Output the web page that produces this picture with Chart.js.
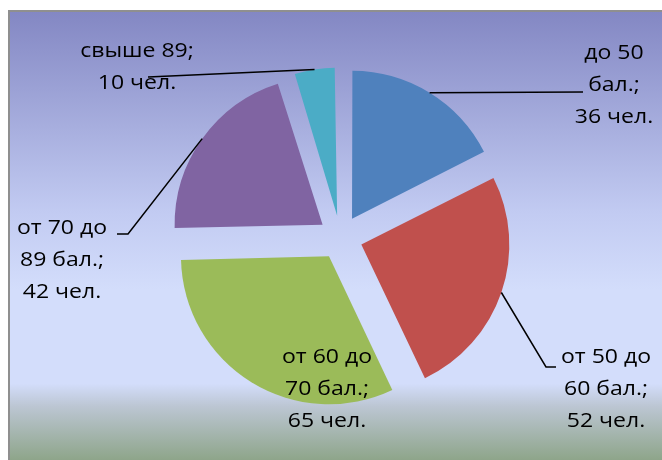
<!DOCTYPE html>
<html>
<head>
<meta charset="utf-8">
<script src="https://cdn.jsdelivr.net/npm/chart.js"></script>
<style>
  html, body { margin: 0; padding: 0; background: #fff; }
  #wrap { width: 662px; height: 460px; position: relative; }
</style>
</head>
<body>
<div id="wrap"><canvas id="pie"></canvas></div>
<script>
const categories = ["до 50 бал.", "от 50 до 60 бал.", "от 60 до 70 бал.", "от 70 до 89 бал.", "свыше 89"];
const counts = [36, 52, 65, 42, 10];
const unit = "чел.";
const sliceColors = ["#4f81bd", "#c0504d", "#9bbb59", "#8064a2", "#4bacc6"];

const R = 148;       // slice radius
const PULL = 22;     // explode distance
const LINE = 32;     // label line height
const STRETCH = 1.15;

// where each label goes: centre x, first baseline, wrap width, leader bends
const labelSpots = [
  {x: 614, y: 59, w: 105, lead: [[583, 92]]},
  {x: 606, y: 363, w: 105, lead: [[546, 367], [556, 367]]},
  {x: 327, y: 363, w: 105, lead: null},
  {x: 62, y: 234, w: 105, lead: [[128, 234], [117, 234]]},
  {x: 137, y: 57, w: 130, lead: [[148, 77]]},
];

function wrap(c, text, maxW) {
  const words = text.split(" ");
  const out = [];
  let cur = "";
  words.forEach(w => {
    const test = cur ? cur + " " + w : w;
    if (cur && c.measureText(test).width * STRETCH > maxW) {
      out.push(cur);
      cur = w;
    } else {
      cur = test;
    }
  });
  if (cur) out.push(cur);
  return out;
}

const frame = {
  id: "frame",
  beforeDraw(chart) {
    const c = chart.ctx;
    const left = 9, top = 11;
    const g = c.createLinearGradient(0, top, 0, chart.height);
    g.addColorStop(0, "#8387c3");
    g.addColorStop(0.45, "#c2cbf2");
    g.addColorStop(0.62, "#d3ddfb");
    g.addColorStop(0.83, "#d3ddfb");
    g.addColorStop(0.88, "#bcc6d3");
    g.addColorStop(1, "#8ea58a");
    c.save();
    c.fillStyle = g;
    c.fillRect(left, top, chart.width - left, chart.height - top);
    c.strokeStyle = "#8f8f8f";
    c.lineWidth = 2;
    c.beginPath();
    c.moveTo(left, chart.height);
    c.lineTo(left, top);
    c.lineTo(chart.width, top);
    c.stroke();
    c.restore();
  }
};

// keep all slices the same size (chart.js grows narrow exploded arcs)
const evenRadius = {
  id: "evenRadius",
  beforeDatasetsDraw(chart) {
    chart.getDatasetMeta(0).data.forEach(arc => {
      const span = arc.endAngle - arc.startAngle;
      arc.outerRadius = R - PULL * (1 - Math.sin(Math.min(Math.PI, span)));
    });
  }
};

const callouts = {
  id: "callouts",
  afterDatasetsDraw(chart) {
    const c = chart.ctx;
    c.save();
    c.font = '20px "Open Sans"';
    c.textAlign = "center";
    c.textBaseline = "alphabetic";
    c.fillStyle = "#000";
    c.strokeStyle = "#000";
    c.lineWidth = 1.5;
    chart.getDatasetMeta(0).data.forEach((arc, i) => {
      const spot = labelSpots[i];
      const mid = (arc.startAngle + arc.endAngle) / 2;
      const lines = wrap(c, categories[i] + ";", spot.w);
      lines.push(counts[i] + " " + unit);
      lines.forEach((t, k) => {
        c.save();
        c.translate(spot.x, spot.y + k * LINE);
        c.scale(STRETCH, 1);
        c.fillText(t, 0, 0);
        c.restore();
      });
      if (spot.lead) {
        c.beginPath();
        c.moveTo(arc.x + Math.cos(mid) * (PULL + R), arc.y + Math.sin(mid) * (PULL + R));
        spot.lead.forEach(p => c.lineTo(p[0], p[1]));
        c.stroke();
      }
    });
    c.restore();
  }
};

new Chart(document.getElementById("pie"), {
  type: "pie",
  data: {
    labels: categories,
    datasets: [{
      data: counts,
      backgroundColor: sliceColors,
      borderWidth: 0,
      offset: PULL * 4,
      hoverOffset: 0,
      radius: R,
    }],
  },
  options: {
    responsive: true,
    maintainAspectRatio: false,
    animation: false,
    events: [],
    layout: { padding: { left: 19, right: 0, top: 15, bottom: 0 } },
    plugins: {
      legend: { display: false },
      tooltip: { enabled: false },
    },
  },
  plugins: [frame, evenRadius, callouts],
});
</script>
</body>
</html>
